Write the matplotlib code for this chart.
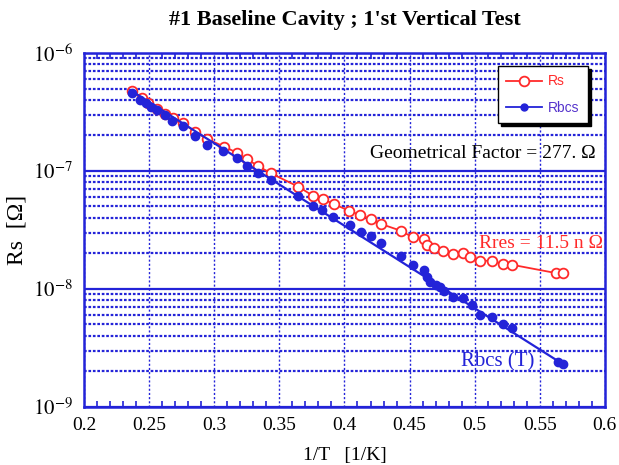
import matplotlib
matplotlib.use("Agg")
import matplotlib.pyplot as plt
from matplotlib.ticker import FixedLocator, LogLocator, NullFormatter, MultipleLocator

plt.rcParams['font.family'] = ['Liberation Serif', 'DejaVu Serif']
plt.rcParams['mathtext.fontset'] = 'stix'

# data
inv_t_rs = [0.2366, 0.2443, 0.2494, 0.2563, 0.2622, 0.2686, 0.2758, 0.2852, 0.2947,
            0.3075, 0.3172, 0.3249, 0.3338, 0.3433, 0.3645, 0.3756, 0.3837, 0.3919,
            0.4033, 0.4119, 0.4203, 0.4278, 0.4431, 0.4524, 0.4610, 0.4636, 0.4687,
            0.4759, 0.4835, 0.4912, 0.4964, 0.5040, 0.5130, 0.5219, 0.5291, 0.5629, 0.5680]
rs_vals = [4.76e-7, 4.13e-7, 3.79e-7, 3.33e-7, 3.04e-7, 2.80e-7, 2.54e-7, 2.15e-7, 1.86e-7,
           1.61e-7, 1.43e-7, 1.26e-7, 1.10e-7, 9.57e-8, 7.36e-8, 6.18e-8, 5.75e-8, 5.24e-8,
           4.61e-8, 4.24e-8, 3.90e-8, 3.56e-8, 3.12e-8, 2.74e-8, 2.64e-8, 2.36e-8, 2.21e-8,
           2.11e-8, 1.98e-8, 2.01e-8, 1.86e-8, 1.74e-8, 1.73e-8, 1.63e-8, 1.60e-8, 1.36e-8, 1.36e-8]

inv_t_bcs = [0.2366, 0.2430, 0.2476, 0.2512, 0.2563, 0.2622, 0.2678, 0.2758, 0.2852, 0.2947,
             0.3069, 0.3177, 0.3249, 0.3338, 0.3433, 0.3645, 0.3760, 0.3825, 0.3914, 0.4039,
             0.4124, 0.4203, 0.4278, 0.4431, 0.4528, 0.4610, 0.4631, 0.4656, 0.4702, 0.4733,
             0.4764, 0.4835, 0.4912, 0.4977, 0.5040, 0.5130, 0.5215, 0.5291, 0.5637, 0.5680]
rbcs_vals = [4.55e-7, 4.00e-7, 3.75e-7, 3.51e-7, 3.29e-7, 2.99e-7, 2.67e-7, 2.42e-7, 1.98e-7, 1.66e-7,
             1.48e-7, 1.28e-7, 1.11e-7, 9.68e-8, 8.39e-8, 6.18e-8, 5.08e-8, 4.67e-8, 4.10e-8, 3.48e-8,
             3.06e-8, 2.80e-8, 2.47e-8, 1.91e-8, 1.60e-8, 1.45e-8, 1.27e-8, 1.15e-8, 1.08e-8, 1.045e-8,
             9.68e-9, 8.61e-9, 8.34e-9, 7.31e-9, 6.02e-9, 5.82e-9, 5.05e-9, 4.64e-9, 2.42e-9, 2.31e-9]

fit_x = [0.2353, 0.5701]
fit_y = [4.86e-7, 2.22e-9]

x_ticks = [0.2, 0.25, 0.3, 0.35, 0.4, 0.45, 0.5, 0.55, 0.6]
x_tick_labels = ['0.2', '0.25', '0.3', '0.35', '0.4', '0.45', '0.5', '0.55', '0.6']
y_ticks = [1e-9, 1e-8, 1e-7, 1e-6]
y_tick_labels = [r'$10^{-9}$', r'$10^{-8}$', r'$10^{-7}$', r'$10^{-6}$']

BLUE = '#2323d8'
RED = '#ff2a2a'

fig = plt.figure(figsize=(6.19, 4.65), dpi=100)
ax = fig.add_axes([0.136, 0.125, 0.841, 0.761])
ax.set_yscale('log')
ax.set_xlim(0.2, 0.6)
ax.set_ylim(1e-9, 1e-6)

# grid
ax.xaxis.set_major_locator(FixedLocator(x_ticks))
ax.set_xticklabels(x_tick_labels)
ax.xaxis.set_minor_locator(MultipleLocator(0.01))
ax.yaxis.set_major_locator(FixedLocator(y_ticks))
ax.set_yticklabels(y_tick_labels)
ax.yaxis.set_minor_locator(LogLocator(base=10, subs=range(2, 10)))
ax.yaxis.set_minor_formatter(NullFormatter())

ax.grid(True, axis='x', which='major', color=BLUE, linestyle=(0, (1.5, 1.5)), linewidth=1.0)
ax.grid(True, axis='y', which='major', color=BLUE, linestyle='-', linewidth=1.6)
ax.grid(True, axis='y', which='minor', color=BLUE, linestyle=(0, (1.2, 0.8)), linewidth=1.6)
ax.set_axisbelow(True)

for s in ax.spines.values():
    s.set_color(BLUE)
    s.set_linewidth(1.8)

ax.tick_params(axis='x', which='both', direction='in', top=True, bottom=True,
               color=BLUE, labelsize=14, pad=7)
ax.tick_params(axis='x', which='major', length=0)
ax.tick_params(axis='x', which='minor', length=4, width=1.2)
ax.tick_params(axis='y', which='both', length=0, labelsize=15, pad=8)

# data
ax.plot(inv_t_rs, rs_vals, '-o', color=RED, markerfacecolor='white', markeredgecolor=RED,
        markersize=7, markeredgewidth=1.3, linewidth=1.3, label='Rs', zorder=3)
ax.plot(fit_x, fit_y, '-', color=BLUE, linewidth=1.6, zorder=3)
ax.plot(inv_t_bcs, rbcs_vals, 'o', color=BLUE, markersize=6, zorder=4)
ax.plot([], [], '-o', color=BLUE, markersize=5, linewidth=1.3, label='Rbcs')

leg = ax.legend(loc='upper left', bbox_to_anchor=(0.795, 0.963), frameon=True,
                fancybox=False, shadow={'color': 'k', 'alpha': 1},
                prop={'family': 'Liberation Sans', 'size': 10}, handlelength=2.6,
                borderpad=0.6, labelspacing=0.9, handletextpad=0.4, borderaxespad=0)
leg.get_frame().set_edgecolor('black')
leg.get_frame().set_linewidth(1.0)
leg.get_frame().set_alpha(1)
texts = leg.get_texts()
texts[0].set_color(RED)
texts[1].set_color('#5533cc')

ax.text(0.4196, 1.42e-7, 'Geometrical Factor = 277. Ω', fontsize=14, color='black',
        ha='left', va='center')
ax.text(0.5985, 2.45e-8, 'Rres = 11.5 n Ω', fontsize=14, color=RED, ha='right', va='center')
ax.text(0.518, 2.40e-9, 'Rbcs (T)', fontsize=15, color=BLUE, ha='center', va='center')

ax.set_title("#1 Baseline Cavity ; 1'st Vertical Test", fontsize=16, fontweight='bold', pad=20)
ax.set_xlabel('1/T   [1/K]', fontsize=14, labelpad=10)
ax.set_ylabel('Rs  [Ω]', fontsize=17, labelpad=4)

fig.savefig('out.png', dpi=100)
